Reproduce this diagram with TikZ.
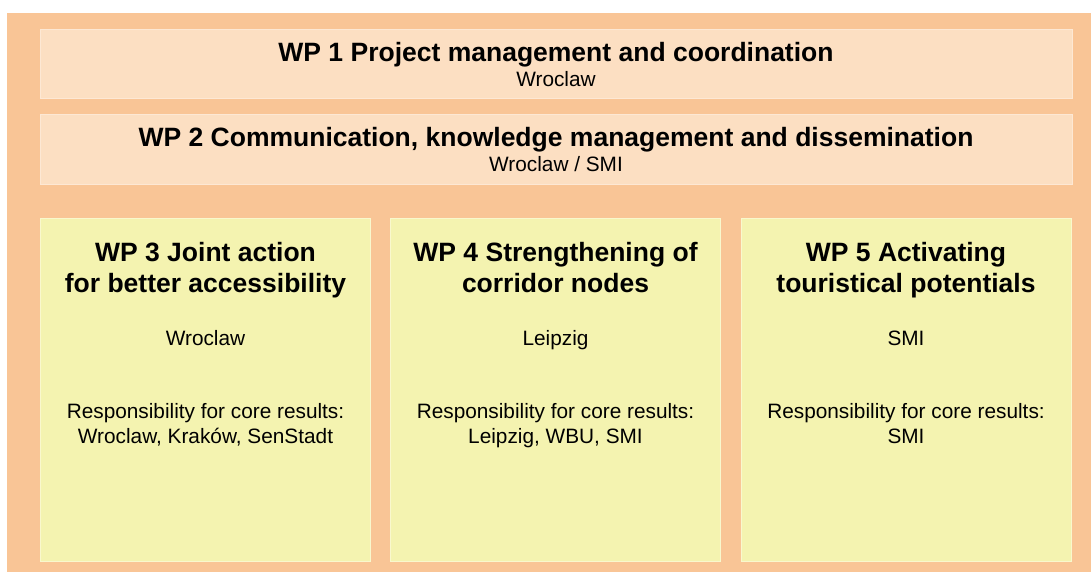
\documentclass[tikz,border=0pt]{standalone}
\usepackage{fontspec}
\setmainfont{Liberation Sans}
\usetikzlibrary{positioning}

\definecolor{wporange}{RGB}{249,197,150}
\definecolor{wppeach}{RGB}{252,223,194}
\definecolor{wppeachrim}{RGB}{253,232,212}
\definecolor{wpyellow}{RGB}{244,243,176}
\definecolor{wpyellowrim}{RGB}{249,248,205}

\begin{document}
\begin{tikzpicture}[x=1pt,y=-1pt,
    wpbar/.style={fill=wppeach, draw=wppeachrim, line width=1pt,
      minimum width=1032pt, minimum height=69pt, inner sep=0pt},
    wpcol/.style={fill=wpyellow, draw=wpyellowrim, line width=1pt,
      minimum width=330pt, minimum height=343pt, inner sep=0pt},
    wptitle/.style={font=\bfseries\fontsize{26.5}{31}\selectfont, align=center, anchor=base, inner sep=0pt},
    wptext/.style={font=\fontsize{20.8}{25}\selectfont, align=center, anchor=base, inner sep=0pt}]

   \useasboundingbox (0,0) rectangle (1091,572);
   \fill[wporange] (7,13) rectangle (1091,572);

   % the two bars across the top
   \node[wpbar] (wp1) at (556,64) {};
   \node[wptitle] (wp1title) at (556,61.5) {WP 1 Project management and coordination};
   \node[wptext] (wp1lead) at (556,86.5) {Wroclaw};

   \node[wpbar] (wp2) at (556,149.5) {};
   \node[wptitle] (wp2title) at (556,146.5) {WP 2 Communication, knowledge management and dissemination};
   \node[wptext] (wp2lead) at (556,171.5) {Wroclaw / SMI};

   % the three columns (base of a two-line node is its last line)
   \node[wpcol] (wp3) at (205.5,389.5) {};
   \node[wptitle] (wp3title) at (205.5,292.5) {WP 3 Joint action\\for better accessibility};
   \node[wptext] (wp3lead) at (205.5,345.5) {Wroclaw};
   \node[wptext] (wp3core) at (205.5,443.5) {Responsibility for core results:\\Wroclaw, Kraków, SenStadt};

   \node[wpcol] (wp4) at (555.5,389.5) {};
   \node[wptitle] (wp4title) at (555.5,292.5) {WP 4 Strengthening of\\corridor nodes};
   \node[wptext] (wp4lead) at (555.5,345.5) {Leipzig};
   \node[wptext] (wp4core) at (555.5,443.5) {Responsibility for core results:\\Leipzig, WBU, SMI};

   \node[wpcol] (wp5) at (906,389.5) {};
   \node[wptitle] (wp5title) at (906,292.5) {WP 5 Activating\\touristical potentials};
   \node[wptext] (wp5lead) at (906,345.5) {SMI};
   \node[wptext] (wp5core) at (906,443.5) {Responsibility for core results:\\SMI};

\end{tikzpicture}
\end{document}
